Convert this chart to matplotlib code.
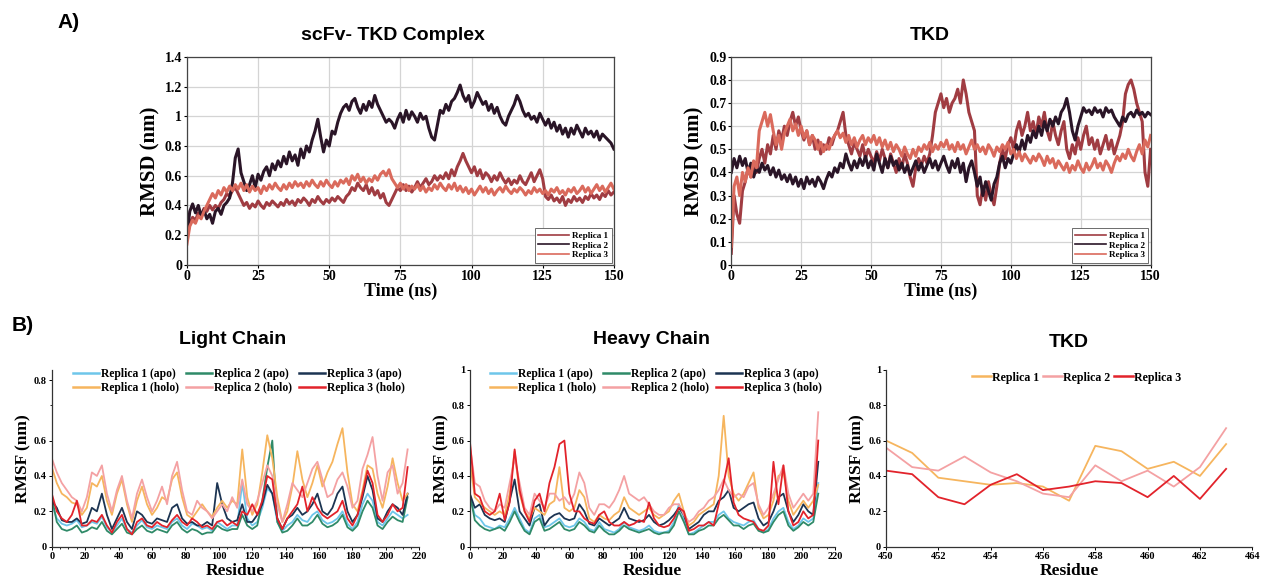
import numpy as np
import matplotlib
matplotlib.use("Agg")
import matplotlib.pyplot as plt
from matplotlib.ticker import FuncFormatter, MultipleLocator

# ---------------- data: RMSD (A), one value per ns, 0..150 ----------------
time_ns = np.arange(0, 151, 1)

cplx_rep1 = [0.18, 0.28, 0.32, 0.30, 0.35, 0.33, 0.38, 0.36, 0.40, 0.37,
             0.40, 0.38, 0.42, 0.44, 0.48, 0.46, 0.50, 0.52, 0.48, 0.44,
             0.40, 0.42, 0.38, 0.41, 0.39, 0.43, 0.40, 0.38, 0.42, 0.40,
             0.43, 0.41, 0.39, 0.42, 0.40, 0.44, 0.41, 0.43, 0.40, 0.44,
             0.42, 0.45, 0.43, 0.40, 0.44, 0.42, 0.46, 0.43, 0.41, 0.44,
             0.42, 0.45, 0.43, 0.46, 0.44, 0.42, 0.46, 0.48, 0.52, 0.50,
             0.55, 0.52, 0.50, 0.54, 0.48, 0.52, 0.47, 0.50, 0.45, 0.48,
             0.42, 0.40, 0.44, 0.48, 0.52, 0.50, 0.54, 0.50, 0.53, 0.49,
             0.52, 0.56, 0.52, 0.55, 0.58, 0.54, 0.56, 0.60, 0.57, 0.60,
             0.58, 0.62, 0.58, 0.64, 0.60, 0.66, 0.70, 0.75, 0.70, 0.66,
             0.62, 0.66, 0.60, 0.64, 0.58, 0.62, 0.60, 0.56, 0.60, 0.57,
             0.62, 0.58, 0.55, 0.58, 0.54, 0.57, 0.55, 0.60, 0.56, 0.54,
             0.58, 0.62, 0.56, 0.60, 0.64, 0.58, 0.46, 0.44, 0.47, 0.43,
             0.45, 0.42, 0.46, 0.40, 0.44, 0.42, 0.46, 0.43, 0.45, 0.42,
             0.46, 0.44, 0.48, 0.45, 0.47, 0.44, 0.48, 0.46, 0.50, 0.47, 0.49]
cplx_rep2 = [0.20, 0.36, 0.41, 0.35, 0.40, 0.33, 0.37, 0.31, 0.34, 0.28,
             0.36, 0.38, 0.34, 0.40, 0.42, 0.45, 0.55, 0.72, 0.78, 0.62,
             0.56, 0.50, 0.54, 0.60, 0.52, 0.61, 0.57, 0.63, 0.66, 0.60,
             0.68, 0.64, 0.70, 0.66, 0.73, 0.68, 0.76, 0.70, 0.74, 0.67,
             0.78, 0.72, 0.80, 0.76, 0.84, 0.90, 0.98, 0.86, 0.76, 0.84,
             0.80, 0.90, 0.88, 0.96, 1.02, 1.06, 1.08, 1.04, 1.10, 1.12,
             1.06, 1.02, 1.08, 1.04, 1.10, 1.06, 1.14, 1.08, 1.04, 1.00,
             0.96, 0.98, 0.96, 0.92, 0.98, 1.02, 0.96, 1.04, 0.98, 1.03,
             1.00, 0.96, 1.02, 0.98, 1.00, 0.92, 0.86, 0.84, 0.94, 1.04,
             1.02, 1.08, 1.04, 1.10, 1.12, 1.16, 1.21, 1.14, 1.10, 1.14,
             1.06, 1.10, 1.16, 1.12, 1.08, 1.10, 1.04, 1.08, 1.02, 1.06,
             1.00, 0.96, 0.94, 1.00, 1.04, 1.08, 1.14, 1.10, 1.04, 1.00,
             1.02, 0.98, 1.00, 0.96, 1.02, 0.98, 0.94, 0.98, 0.92, 0.96,
             0.90, 0.94, 0.88, 0.92, 0.86, 0.92, 0.88, 0.94, 0.90, 0.86,
             0.92, 0.88, 0.90, 0.86, 0.90, 0.84, 0.88, 0.86, 0.84, 0.82, 0.78]
cplx_rep3 = [0.14, 0.26, 0.30, 0.28, 0.33, 0.31, 0.36, 0.40, 0.44, 0.48,
             0.45, 0.50, 0.47, 0.52, 0.49, 0.53, 0.50, 0.54, 0.51, 0.55,
             0.50, 0.54, 0.49, 0.53, 0.50, 0.52, 0.48, 0.53, 0.50, 0.54,
             0.51, 0.55, 0.52, 0.50, 0.54, 0.51, 0.55, 0.52, 0.56, 0.53,
             0.55, 0.52, 0.56, 0.53, 0.57, 0.54, 0.52, 0.56, 0.53, 0.57,
             0.54, 0.52, 0.56, 0.53, 0.57, 0.55, 0.58, 0.54, 0.60, 0.57,
             0.61, 0.56, 0.59, 0.55, 0.58, 0.56, 0.60, 0.57, 0.61, 0.63,
             0.60, 0.64, 0.58, 0.55, 0.52, 0.55, 0.51, 0.54, 0.50, 0.53,
             0.51, 0.54, 0.50, 0.53, 0.49, 0.52, 0.50, 0.54, 0.51, 0.55,
             0.52, 0.50, 0.54, 0.51, 0.55, 0.50, 0.53, 0.49, 0.52, 0.48,
             0.51, 0.47, 0.50, 0.53, 0.49, 0.52, 0.48, 0.51, 0.47, 0.50,
             0.52, 0.49, 0.53, 0.50, 0.48, 0.51, 0.49, 0.52, 0.50, 0.47,
             0.50, 0.48, 0.52, 0.49, 0.51, 0.48, 0.50, 0.47, 0.51, 0.49,
             0.52, 0.48, 0.50, 0.47, 0.51, 0.49, 0.52, 0.48, 0.50, 0.53,
             0.49, 0.52, 0.48, 0.51, 0.54, 0.50, 0.53, 0.49, 0.52, 0.55, 0.51]

tkd_rep1 = [0.05, 0.30, 0.22, 0.18, 0.32, 0.36, 0.42, 0.38, 0.44, 0.40,
            0.46, 0.50, 0.44, 0.52, 0.48, 0.56, 0.50, 0.58, 0.54, 0.60,
            0.56, 0.62, 0.66, 0.60, 0.64, 0.58, 0.54, 0.58, 0.52, 0.56,
            0.50, 0.54, 0.48, 0.52, 0.50, 0.55, 0.52, 0.56, 0.58, 0.62,
            0.66, 0.56, 0.52, 0.48, 0.53, 0.50, 0.47, 0.52, 0.46, 0.50,
            0.47, 0.44, 0.49, 0.45, 0.50, 0.46, 0.42, 0.48, 0.44, 0.40,
            0.46, 0.42, 0.48, 0.44, 0.38, 0.34, 0.42, 0.46, 0.43, 0.47,
            0.44, 0.48, 0.56, 0.66, 0.70, 0.74, 0.68, 0.72, 0.66, 0.70,
            0.72, 0.76, 0.70, 0.80, 0.74, 0.66, 0.62, 0.58, 0.30, 0.26,
            0.34, 0.28, 0.36, 0.30, 0.26, 0.34, 0.44, 0.50, 0.46, 0.52,
            0.55, 0.50, 0.58, 0.62, 0.56, 0.60, 0.66, 0.58, 0.62, 0.56,
            0.64, 0.60, 0.66, 0.58, 0.54, 0.62, 0.56, 0.52, 0.58, 0.62,
            0.50, 0.46, 0.52, 0.48, 0.55, 0.50, 0.56, 0.60, 0.52, 0.55,
            0.50, 0.54, 0.48, 0.52, 0.56, 0.50, 0.54, 0.48, 0.52, 0.56,
            0.62, 0.74, 0.78, 0.80, 0.76, 0.70, 0.66, 0.62, 0.40, 0.34, 0.50]
tkd_rep2 = [0.40, 0.46, 0.42, 0.47, 0.43, 0.46, 0.40, 0.44, 0.38, 0.42,
            0.40, 0.44, 0.41, 0.43, 0.39, 0.42, 0.38, 0.41, 0.37, 0.39,
            0.36, 0.39, 0.35, 0.38, 0.34, 0.37, 0.33, 0.38, 0.35, 0.37,
            0.34, 0.38, 0.36, 0.33, 0.37, 0.40, 0.38, 0.42, 0.40, 0.44,
            0.42, 0.48, 0.44, 0.41, 0.45, 0.42, 0.46, 0.43, 0.47, 0.42,
            0.45, 0.41, 0.48, 0.44, 0.40, 0.46, 0.42, 0.47, 0.43, 0.45,
            0.41, 0.44, 0.40, 0.43, 0.39, 0.42, 0.45, 0.41, 0.44, 0.40,
            0.43, 0.46, 0.42, 0.45, 0.41, 0.44, 0.47, 0.43, 0.40, 0.45,
            0.42, 0.46, 0.40, 0.44, 0.36, 0.42, 0.45, 0.40, 0.34, 0.38,
            0.30, 0.36, 0.32, 0.28, 0.35, 0.38, 0.44, 0.47, 0.42, 0.46,
            0.44, 0.48, 0.52, 0.49, 0.54, 0.50, 0.56, 0.53, 0.58, 0.55,
            0.60, 0.56, 0.62, 0.58, 0.63, 0.60, 0.64, 0.61, 0.66, 0.68,
            0.72, 0.66, 0.58, 0.54, 0.60, 0.64, 0.68, 0.66, 0.67, 0.65,
            0.68, 0.66, 0.67, 0.64, 0.68, 0.66, 0.67, 0.64, 0.62, 0.60,
            0.64, 0.62, 0.65, 0.66, 0.64, 0.67, 0.65, 0.66, 0.64, 0.66, 0.65]
tkd_rep3 = [0.08, 0.34, 0.38, 0.30, 0.40, 0.36, 0.42, 0.38, 0.45, 0.42,
            0.58, 0.62, 0.66, 0.60, 0.65, 0.58, 0.52, 0.56, 0.50, 0.57,
            0.60, 0.63, 0.58, 0.61, 0.56, 0.60, 0.55, 0.58, 0.52, 0.56,
            0.54, 0.50, 0.53, 0.49, 0.52, 0.50, 0.54, 0.56, 0.58, 0.55,
            0.57, 0.53, 0.56, 0.52, 0.55, 0.51, 0.54, 0.56, 0.52, 0.55,
            0.53, 0.56, 0.52, 0.55, 0.51, 0.54, 0.50, 0.53, 0.49, 0.52,
            0.50, 0.47, 0.51, 0.48, 0.46, 0.50, 0.47, 0.51, 0.49, 0.52,
            0.50, 0.53, 0.49, 0.52, 0.50, 0.53, 0.51, 0.54, 0.50, 0.52,
            0.49, 0.53, 0.50, 0.52, 0.48, 0.51, 0.54, 0.50, 0.52, 0.49,
            0.51, 0.48, 0.52, 0.50, 0.47, 0.51, 0.49, 0.52, 0.50, 0.53,
            0.48, 0.50, 0.46, 0.49, 0.45, 0.48, 0.46, 0.44, 0.47, 0.45,
            0.48, 0.46, 0.43, 0.47, 0.44, 0.46, 0.42, 0.45, 0.43, 0.41,
            0.44, 0.40, 0.43, 0.41, 0.45, 0.42, 0.40, 0.44, 0.41, 0.43,
            0.46, 0.42, 0.44, 0.41, 0.45, 0.43, 0.40, 0.44, 0.47, 0.45,
            0.48, 0.46, 0.50, 0.47, 0.45, 0.49, 0.52, 0.48, 0.54, 0.51, 0.56]

# ---------------- data: RMSF (B), every 3rd residue ----------------
light_res = np.arange(0, 214, 3)
light_apo1 = [0.24, 0.16, 0.13, 0.12, 0.13, 0.15, 0.11, 0.12, 0.14, 0.13, 0.17, 0.11, 0.08, 0.12, 0.16, 0.10,
              0.08, 0.12, 0.15, 0.11, 0.10, 0.12, 0.11, 0.10, 0.14, 0.16, 0.12, 0.10, 0.13, 0.12, 0.10, 0.11,
              0.09, 0.14, 0.12, 0.10, 0.12, 0.12, 0.36, 0.16, 0.12, 0.14, 0.22, 0.33, 0.30, 0.14, 0.09, 0.12,
              0.14, 0.18, 0.15, 0.14, 0.18, 0.20, 0.15, 0.13, 0.14, 0.16, 0.20, 0.13, 0.10, 0.14, 0.24, 0.30,
              0.26, 0.14, 0.12, 0.16, 0.20, 0.18, 0.16, 0.18]
light_apo2 = [0.28, 0.14, 0.10, 0.09, 0.10, 0.12, 0.08, 0.09, 0.11, 0.10, 0.14, 0.09, 0.07, 0.10, 0.13, 0.08,
              0.07, 0.10, 0.12, 0.09, 0.08, 0.10, 0.09, 0.08, 0.12, 0.14, 0.10, 0.08, 0.10, 0.09, 0.07, 0.08,
              0.08, 0.12, 0.10, 0.09, 0.10, 0.10, 0.18, 0.12, 0.10, 0.12, 0.26, 0.45, 0.60, 0.14, 0.08, 0.09,
              0.12, 0.16, 0.12, 0.12, 0.14, 0.18, 0.13, 0.11, 0.12, 0.14, 0.18, 0.11, 0.09, 0.12, 0.20, 0.26,
              0.22, 0.12, 0.10, 0.14, 0.17, 0.15, 0.14, 0.28]
light_apo3 = [0.26, 0.22, 0.15, 0.14, 0.14, 0.16, 0.13, 0.14, 0.22, 0.20, 0.30, 0.18, 0.10, 0.16, 0.22, 0.14,
              0.10, 0.20, 0.18, 0.14, 0.13, 0.16, 0.15, 0.14, 0.22, 0.24, 0.16, 0.13, 0.14, 0.12, 0.12, 0.14,
              0.12, 0.36, 0.24, 0.16, 0.14, 0.15, 0.24, 0.14, 0.14, 0.18, 0.24, 0.35, 0.30, 0.16, 0.10, 0.16,
              0.18, 0.22, 0.18, 0.20, 0.24, 0.30, 0.20, 0.18, 0.22, 0.30, 0.34, 0.20, 0.14, 0.18, 0.28, 0.40,
              0.32, 0.16, 0.14, 0.20, 0.24, 0.22, 0.18, 0.30]
light_holo1 = [0.45, 0.36, 0.30, 0.28, 0.25, 0.24, 0.18, 0.22, 0.36, 0.34, 0.40, 0.26, 0.18, 0.30, 0.38, 0.24,
               0.14, 0.26, 0.34, 0.24, 0.18, 0.22, 0.28, 0.26, 0.38, 0.42, 0.28, 0.18, 0.16, 0.20, 0.24, 0.20,
               0.17, 0.22, 0.26, 0.22, 0.26, 0.24, 0.55, 0.28, 0.18, 0.24, 0.42, 0.63, 0.50, 0.28, 0.14, 0.20,
               0.34, 0.54, 0.38, 0.28, 0.36, 0.46, 0.34, 0.42, 0.48, 0.58, 0.67, 0.42, 0.24, 0.20, 0.32, 0.46,
               0.44, 0.30, 0.22, 0.34, 0.50, 0.36, 0.26, 0.30]
light_holo2 = [0.50, 0.42, 0.36, 0.32, 0.28, 0.26, 0.20, 0.28, 0.42, 0.40, 0.46, 0.30, 0.20, 0.32, 0.40, 0.26,
               0.16, 0.30, 0.38, 0.28, 0.20, 0.26, 0.34, 0.24, 0.40, 0.48, 0.32, 0.20, 0.18, 0.26, 0.22, 0.20,
               0.16, 0.20, 0.24, 0.20, 0.28, 0.22, 0.38, 0.24, 0.20, 0.26, 0.36, 0.46, 0.40, 0.24, 0.14, 0.24,
               0.36, 0.32, 0.28, 0.36, 0.44, 0.48, 0.38, 0.28, 0.30, 0.38, 0.42, 0.34, 0.22, 0.26, 0.44, 0.52,
               0.62, 0.40, 0.26, 0.42, 0.46, 0.30, 0.36, 0.55]
light_holo3 = [0.30, 0.20, 0.16, 0.14, 0.18, 0.26, 0.12, 0.12, 0.15, 0.14, 0.18, 0.12, 0.08, 0.14, 0.18, 0.10,
               0.07, 0.14, 0.16, 0.12, 0.11, 0.14, 0.12, 0.11, 0.15, 0.18, 0.14, 0.12, 0.16, 0.14, 0.11, 0.12,
               0.10, 0.14, 0.15, 0.12, 0.14, 0.12, 0.20, 0.18, 0.24, 0.18, 0.26, 0.40, 0.38, 0.16, 0.10, 0.16,
               0.20, 0.24, 0.34, 0.20, 0.28, 0.22, 0.18, 0.16, 0.18, 0.20, 0.26, 0.16, 0.12, 0.18, 0.30, 0.43,
               0.36, 0.18, 0.14, 0.18, 0.24, 0.20, 0.22, 0.45]

heavy_res = np.arange(0, 211, 3)
heavy_apo1 = [0.28, 0.18, 0.16, 0.12, 0.11, 0.10, 0.12, 0.11, 0.16, 0.22, 0.16, 0.10, 0.08, 0.16, 0.18, 0.11,
              0.12, 0.14, 0.16, 0.12, 0.11, 0.12, 0.16, 0.14, 0.10, 0.09, 0.14, 0.10, 0.09, 0.08, 0.10, 0.14,
              0.11, 0.10, 0.09, 0.10, 0.12, 0.09, 0.08, 0.08, 0.09, 0.14, 0.24, 0.16, 0.07, 0.08, 0.10, 0.12,
              0.14, 0.14, 0.18, 0.20, 0.16, 0.14, 0.13, 0.12, 0.14, 0.15, 0.10, 0.08, 0.10, 0.16, 0.20, 0.22,
              0.14, 0.10, 0.12, 0.16, 0.14, 0.16, 0.36]
heavy_apo2 = [0.30, 0.15, 0.12, 0.10, 0.09, 0.10, 0.11, 0.09, 0.14, 0.20, 0.14, 0.09, 0.07, 0.14, 0.16, 0.09,
              0.10, 0.12, 0.14, 0.10, 0.09, 0.10, 0.14, 0.12, 0.09, 0.08, 0.12, 0.09, 0.07, 0.07, 0.09, 0.12,
              0.10, 0.09, 0.08, 0.09, 0.10, 0.08, 0.07, 0.08, 0.08, 0.12, 0.20, 0.14, 0.07, 0.07, 0.09, 0.10,
              0.12, 0.12, 0.16, 0.18, 0.15, 0.12, 0.12, 0.10, 0.12, 0.13, 0.09, 0.08, 0.09, 0.14, 0.18, 0.20,
              0.12, 0.09, 0.11, 0.14, 0.12, 0.14, 0.30]
heavy_apo3 = [0.30, 0.22, 0.24, 0.18, 0.16, 0.15, 0.16, 0.14, 0.26, 0.38, 0.20, 0.16, 0.12, 0.22, 0.24, 0.12,
              0.16, 0.18, 0.19, 0.16, 0.15, 0.16, 0.24, 0.20, 0.13, 0.12, 0.16, 0.14, 0.12, 0.14, 0.16, 0.22,
              0.16, 0.15, 0.14, 0.15, 0.18, 0.14, 0.12, 0.13, 0.15, 0.18, 0.22, 0.18, 0.10, 0.12, 0.14, 0.18,
              0.20, 0.20, 0.26, 0.28, 0.32, 0.22, 0.20, 0.22, 0.24, 0.25, 0.16, 0.12, 0.14, 0.20, 0.28, 0.30,
              0.20, 0.14, 0.18, 0.24, 0.20, 0.18, 0.48]
heavy_holo1 = [0.48, 0.28, 0.25, 0.22, 0.20, 0.18, 0.20, 0.18, 0.30, 0.54, 0.30, 0.20, 0.16, 0.22, 0.20, 0.18,
               0.24, 0.26, 0.45, 0.22, 0.20, 0.22, 0.32, 0.28, 0.16, 0.14, 0.18, 0.16, 0.15, 0.18, 0.20, 0.28,
               0.22, 0.20, 0.18, 0.20, 0.22, 0.18, 0.16, 0.18, 0.20, 0.26, 0.30, 0.20, 0.12, 0.14, 0.18, 0.20,
               0.22, 0.24, 0.40, 0.74, 0.40, 0.30, 0.26, 0.30, 0.36, 0.42, 0.22, 0.16, 0.18, 0.26, 0.40, 0.42,
               0.26, 0.18, 0.22, 0.26, 0.22, 0.26, 0.35]
heavy_holo2 = [0.58, 0.36, 0.34, 0.26, 0.22, 0.20, 0.24, 0.22, 0.36, 0.50, 0.36, 0.22, 0.18, 0.30, 0.26, 0.22,
               0.30, 0.30, 0.26, 0.28, 0.24, 0.30, 0.42, 0.36, 0.22, 0.18, 0.24, 0.24, 0.22, 0.26, 0.32, 0.40,
               0.30, 0.28, 0.26, 0.28, 0.24, 0.20, 0.18, 0.18, 0.22, 0.24, 0.24, 0.18, 0.14, 0.16, 0.20, 0.22,
               0.26, 0.28, 0.32, 0.38, 0.32, 0.28, 0.30, 0.28, 0.34, 0.36, 0.24, 0.18, 0.22, 0.30, 0.38, 0.46,
               0.30, 0.22, 0.26, 0.30, 0.26, 0.30, 0.76]
heavy_holo3 = [0.60, 0.30, 0.28, 0.20, 0.18, 0.20, 0.30, 0.15, 0.25, 0.55, 0.32, 0.20, 0.14, 0.26, 0.30, 0.20,
               0.36, 0.45, 0.58, 0.60, 0.30, 0.20, 0.20, 0.16, 0.14, 0.13, 0.18, 0.20, 0.14, 0.12, 0.12, 0.14,
               0.12, 0.13, 0.15, 0.14, 0.25, 0.16, 0.12, 0.11, 0.12, 0.16, 0.22, 0.20, 0.09, 0.10, 0.12, 0.12,
               0.14, 0.12, 0.24, 0.36, 0.50, 0.25, 0.18, 0.16, 0.15, 0.14, 0.10, 0.09, 0.12, 0.48, 0.24, 0.46,
               0.20, 0.12, 0.14, 0.20, 0.16, 0.18, 0.60]

tkd_res = np.arange(450, 464)
tkd_rmsf1 = [0.60, 0.53, 0.39, 0.37, 0.35, 0.36, 0.34, 0.26, 0.57, 0.54, 0.44, 0.48, 0.40, 0.58]
tkd_rmsf2 = [0.56, 0.45, 0.43, 0.51, 0.42, 0.37, 0.30, 0.28, 0.46, 0.37, 0.43, 0.34, 0.45, 0.67]
tkd_rmsf3 = [0.43, 0.41, 0.28, 0.24, 0.35, 0.41, 0.32, 0.34, 0.37, 0.36, 0.28, 0.40, 0.27, 0.44]

rep_labels = ["Replica 1", "Replica 2", "Replica 3"]
rmsd_colors = ["#a03c42", "#2a1527", "#da6a5c"]
apo_colors = ["#6ec6ea", "#2f8a68", "#1c3452"]
holo_colors = ["#f6b55e", "#f4a1a3", "#e2232b"]

SERIF = ["Liberation Serif", "DejaVu Serif"]
SANS = ["Liberation Sans", "DejaVu Sans"]
gfmt = FuncFormatter(lambda v, p: "%g" % round(v, 2))

fig = plt.figure(figsize=(12.63, 5.86), dpi=100)


def style_ticks(ax, size):
    for lab in ax.get_xticklabels() + ax.get_yticklabels():
        lab.set_fontfamily(SERIF)
        lab.set_fontweight("bold")
        lab.set_fontsize(size)


# ---------------- A) RMSD panels ----------------
def rmsd_panel(rect, series, ymax):
    ax = fig.add_axes(rect)
    for s, c, lab in zip(series, rmsd_colors, rep_labels):
        ax.plot(time_ns, s, color=c, lw=2.2, label=lab)
    ax.set_xlim(0, 150)
    ax.set_ylim(0, ymax)
    ax.set_xticks(np.arange(0, 151, 25))
    ax.yaxis.set_major_locator(MultipleLocator(0.2 if ymax > 1 else 0.1))
    ax.yaxis.set_major_formatter(gfmt)
    ax.grid(True, color="#d4d4d4", lw=0.9)
    ax.set_axisbelow(True)
    for sp in ax.spines.values():
        sp.set_color("#444444")
        sp.set_linewidth(0.9)
    ax.tick_params(length=2.5, width=0.8, pad=1)
    style_ticks(ax, 10)
    ax.set_xlabel("Time (ns)", fontfamily=SERIF, fontweight="bold", fontsize=13, labelpad=0)
    ax.set_ylabel("RMSD (nm)", fontfamily=SERIF, fontweight="bold", fontsize=15, labelpad=3)
    leg = ax.legend(loc="lower right", prop={"family": SERIF, "weight": "bold", "size": 6.6},
                    frameon=True, fancybox=False, edgecolor="#555555", framealpha=1,
                    handlelength=3.4, handletextpad=0.3, labelspacing=0.15,
                    borderpad=0.35, borderaxespad=0.25)
    leg.get_frame().set_linewidth(0.6)
    for h in leg.get_lines():
        h.set_linewidth(1.2)
    return ax


rmsd_panel([0.148, 0.548, 0.338, 0.355], [cplx_rep1, cplx_rep2, cplx_rep3], 1.4)
rmsd_panel([0.579, 0.548, 0.332, 0.355], [tkd_rep1, tkd_rep2, tkd_rep3], 0.9)

fig.text(0.311, 0.940, "scFv- TKD Complex", ha="center", va="center",
         fontfamily=SANS, fontweight="bold", fontsize=14)
fig.text(0.736, 0.940, "TKD", ha="center", va="center",
         fontfamily=SANS, fontweight="bold", fontsize=14)
fig.text(0.054, 0.962, "A)", ha="center", va="center",
         fontfamily=SANS, fontweight="bold", fontsize=15)


# ---------------- B) RMSF panels ----------------
def rmsf_axes(rect):
    ax = fig.add_axes(rect)
    for sp in ("top", "right"):
        ax.spines[sp].set_visible(False)
    for sp in ("left", "bottom"):
        ax.spines[sp].set_color("#333333")
        ax.spines[sp].set_linewidth(0.9)
    ax.set_ylim(0, 1.0)
    ax.tick_params(length=2.5, width=0.7, pad=1)
    ax.tick_params(which="minor", length=1.5, width=0.6)
    ax.set_xlabel("Residue", fontfamily=SERIF, fontweight="bold", fontsize=12.5, labelpad=2)
    ax.set_ylabel("RMSF (nm)", fontfamily=SERIF, fontweight="bold", fontsize=12.5, labelpad=2)
    return ax


def chain_panel(rect, res, apo, holo, title_x, title):
    ax = rmsf_axes(rect)
    lines = {}
    for i in range(3):
        lines["apo%d" % i] = ax.plot(res, apo[i], color=apo_colors[i], lw=1.3,
                                     label="Replica %d (apo)" % (i + 1))[0]
    for i in range(3):
        lines["holo%d" % i] = ax.plot(res, holo[i], color=holo_colors[i], lw=1.3,
                                      label="Replica %d (holo)" % (i + 1))[0]
    ax.set_xlim(0, 220)
    ax.set_xticks(np.arange(0, 221, 20))
    ax.xaxis.set_minor_locator(MultipleLocator(5))
    order = ["apo0", "holo0", "apo1", "holo1", "apo2", "holo2"]
    hs = [lines[k] for k in order]
    leg = ax.legend(hs, [h.get_label() for h in hs], loc="upper center", bbox_to_anchor=(0.51, 1.07),
                    ncol=3, frameon=False, prop={"family": SERIF, "weight": "bold", "size": 8.4},
                    handlelength=2.2, handletextpad=0.2, columnspacing=0.6, labelspacing=0.15)
    for h in leg.get_lines():
        h.set_linewidth(1.8)
    fig.text(title_x, 0.421, title, ha="center", va="center",
             fontfamily=SANS, fontweight="bold", fontsize=14)
    return ax


ax_l = chain_panel([0.041, 0.067, 0.291, 0.302], light_res,
                   [light_apo1, light_apo2, light_apo3],
                   [light_holo1, light_holo2, light_holo3], 0.184, "Light Chain")
ax_l.set_yticks([0, 0.2, 0.4, 0.6, 0.94])
ax_l.set_yticklabels(["0", "0.2", "0.4", "0.6", "0.8"])
ax_l.set_yticks([0.8], minor=True)
style_ticks(ax_l, 7.5)

ax_h = chain_panel([0.372, 0.067, 0.289, 0.302], heavy_res,
                   [heavy_apo1, heavy_apo2, heavy_apo3],
                   [heavy_holo1, heavy_holo2, heavy_holo3], 0.516, "Heavy Chain")
ax_h.set_yticks(np.arange(0, 1.01, 0.2))
ax_h.yaxis.set_major_formatter(gfmt)
style_ticks(ax_h, 7.5)

ax_t = rmsf_axes([0.7015, 0.067, 0.290, 0.302])
for s, c, lab in zip([tkd_rmsf1, tkd_rmsf2, tkd_rmsf3], holo_colors, rep_labels):
    ax_t.plot(tkd_res, s, color=c, lw=1.3, label=lab)
ax_t.set_xlim(450, 464)
ax_t.set_xticks(np.arange(450, 465, 2))
ax_t.set_yticks(np.arange(0, 1.01, 0.2))
ax_t.yaxis.set_major_formatter(gfmt)
style_ticks(ax_t, 7.5)
leg_t = ax_t.legend(loc="upper center", bbox_to_anchor=(0.52, 1.05), ncol=3, frameon=False,
                    prop={"family": SERIF, "weight": "bold", "size": 8.6},
                    handlelength=1.6, handletextpad=0.1, columnspacing=0.3)
for h in leg_t.get_lines():
    h.set_linewidth(1.8)
fig.text(0.846, 0.416, "TKD", ha="center", va="center",
         fontfamily=SANS, fontweight="bold", fontsize=14)
fig.text(0.018, 0.445, "B)", ha="center", va="center",
         fontfamily=SANS, fontweight="bold", fontsize=15)

fig.savefig("out.png", dpi=100, facecolor="white")
